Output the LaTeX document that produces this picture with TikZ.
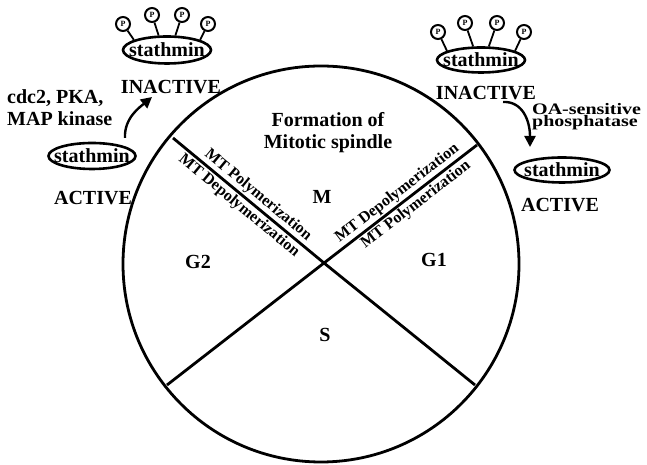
\documentclass[tikz,border=0pt]{standalone}
\usepackage{fontspec}
\setmainfont{Liberation Serif}
\usepackage{graphicx}
\usetikzlibrary{shapes.geometric,arrows.meta}
\begin{document}
\begin{tikzpicture}[x=1bp,y=1bp,
  lbl/.style={font=\fontsize{20bp}{22bp}\selectfont\bfseries, inner sep=0pt},
  mt/.style={font=\fontsize{16bp}{18bp}\selectfont\bfseries, inner sep=1.5bp},
  stath/.style={ellipse, draw, line width=2.6bp, inner sep=0pt, font=\fontsize{20bp}{20bp}\selectfont\bfseries},
  phos/.style={circle, draw, line width=2bp, minimum size=14bp, inner sep=0pt, font=\fontsize{8bp}{8bp}\selectfont\bfseries},
  stem/.style={line width=1.8bp},
  cyc/.style={line width=2.8bp},
  arr/.style={line width=2.4bp, -{Triangle[length=11bp,width=11bp]}}
]
\useasboundingbox (0,0) rectangle (647,465);
% cell cycle circle
\node[circle, draw, cyc, minimum size=396bp, inner sep=0pt] (cell) at (321,201) {};
\coordinate (X) at (324,202);
\coordinate (UL) at (173,327);
\coordinate (UR) at (477,320);
\coordinate (LL) at (167,80);
\coordinate (LR) at (475,80);
\draw[cyc] (UL) -- (X)
  node[mt, sloped, above, pos=.52] (polyL) {MT Polymerization}
  node[mt, sloped, below, pos=.48] (depolyL) {MT Depolymerization};
\draw[cyc] (X) -- (UR)
  node[mt, sloped, above, pos=.52] (depolyR) {MT Depolymerization}
  node[mt, sloped, below, pos=.56] (polyR) {MT Polymerization};
\draw[cyc] (X) -- (LL);
\draw[cyc] (X) -- (LR);
% phase labels
\node[lbl, align=center] (form) at (328,332) {Formation of\\Mitotic spindle};
\node[lbl] (M) at (322,268) {M};
\node[lbl] (G2) at (198,203) {G2};
\node[lbl] (G1) at (434,205) {G1};
\node[lbl] (S) at (325,130) {S};
% left: inactive stathmin
\node[stath, minimum width=88bp, minimum height=27bp] (s1) at (167,415) {\makebox[0pt]{stathmin}};
\node[phos] (p1) at (123,441) {P};
\node[phos] (p2) at (152,450) {P};
\node[phos] (p3) at (182,450) {P};
\node[phos] (p4) at (208,441) {P};
\draw[stem] (p1) -- (s1.163);
\draw[stem] (p2) -- (s1.120);
\draw[stem] (p3) -- (s1.60);
\draw[stem] (p4) -- (s1.17);
\node[lbl] (inL) at (171,378) {INACTIVE};
\node[lbl, align=left, anchor=west] (kin) at (7,357) {cdc2, PKA,\\MAP kinase};
% left: active stathmin
\node[stath, minimum width=87bp, minimum height=26bp] (s2) at (92,309) {\makebox[0pt]{stathmin}};
\node[lbl] (acL) at (93,267) {ACTIVE};
\coordinate (a1s) at (125,327);
\coordinate (a1e) at (152,368);
\draw[arr] (a1s) .. controls (124,347) and (140,358) .. (a1e);
% right: inactive stathmin
\node[stath, minimum width=88bp, minimum height=25bp] (s3) at (481,405) {\makebox[0pt]{stathmin}};
\node[phos] (q1) at (438,433) {P};
\node[phos] (q2) at (465,442) {P};
\node[phos] (q3) at (497,442) {P};
\node[phos] (q4) at (524,433) {P};
\draw[stem] (q1) -- (s3.165);
\draw[stem] (q2) -- (s3.120);
\draw[stem] (q3) -- (s3.60);
\draw[stem] (q4) -- (s3.15);
\node[lbl] (inR) at (486,372) {INACTIVE};
\node[lbl, anchor=west, align=left, font=\fontsize{16bp}{11bp}\selectfont\bfseries] (pp) at (532,348)
  {\scalebox{1.25}[1]{OA-sensitive}\\\scalebox{1.25}[1]{phosphatase}};
% right: active stathmin
\node[stath, minimum width=95bp, minimum height=25bp] (s4) at (562,295) {\makebox[0pt]{stathmin}};
\node[lbl] (acR) at (560,260) {ACTIVE};
\coordinate (a2s) at (503,363);
\coordinate (a2e) at (530,318);
\draw[arr] (a2s) .. controls (522,364) and (530,345) .. (a2e);
\end{tikzpicture}
\end{document}
